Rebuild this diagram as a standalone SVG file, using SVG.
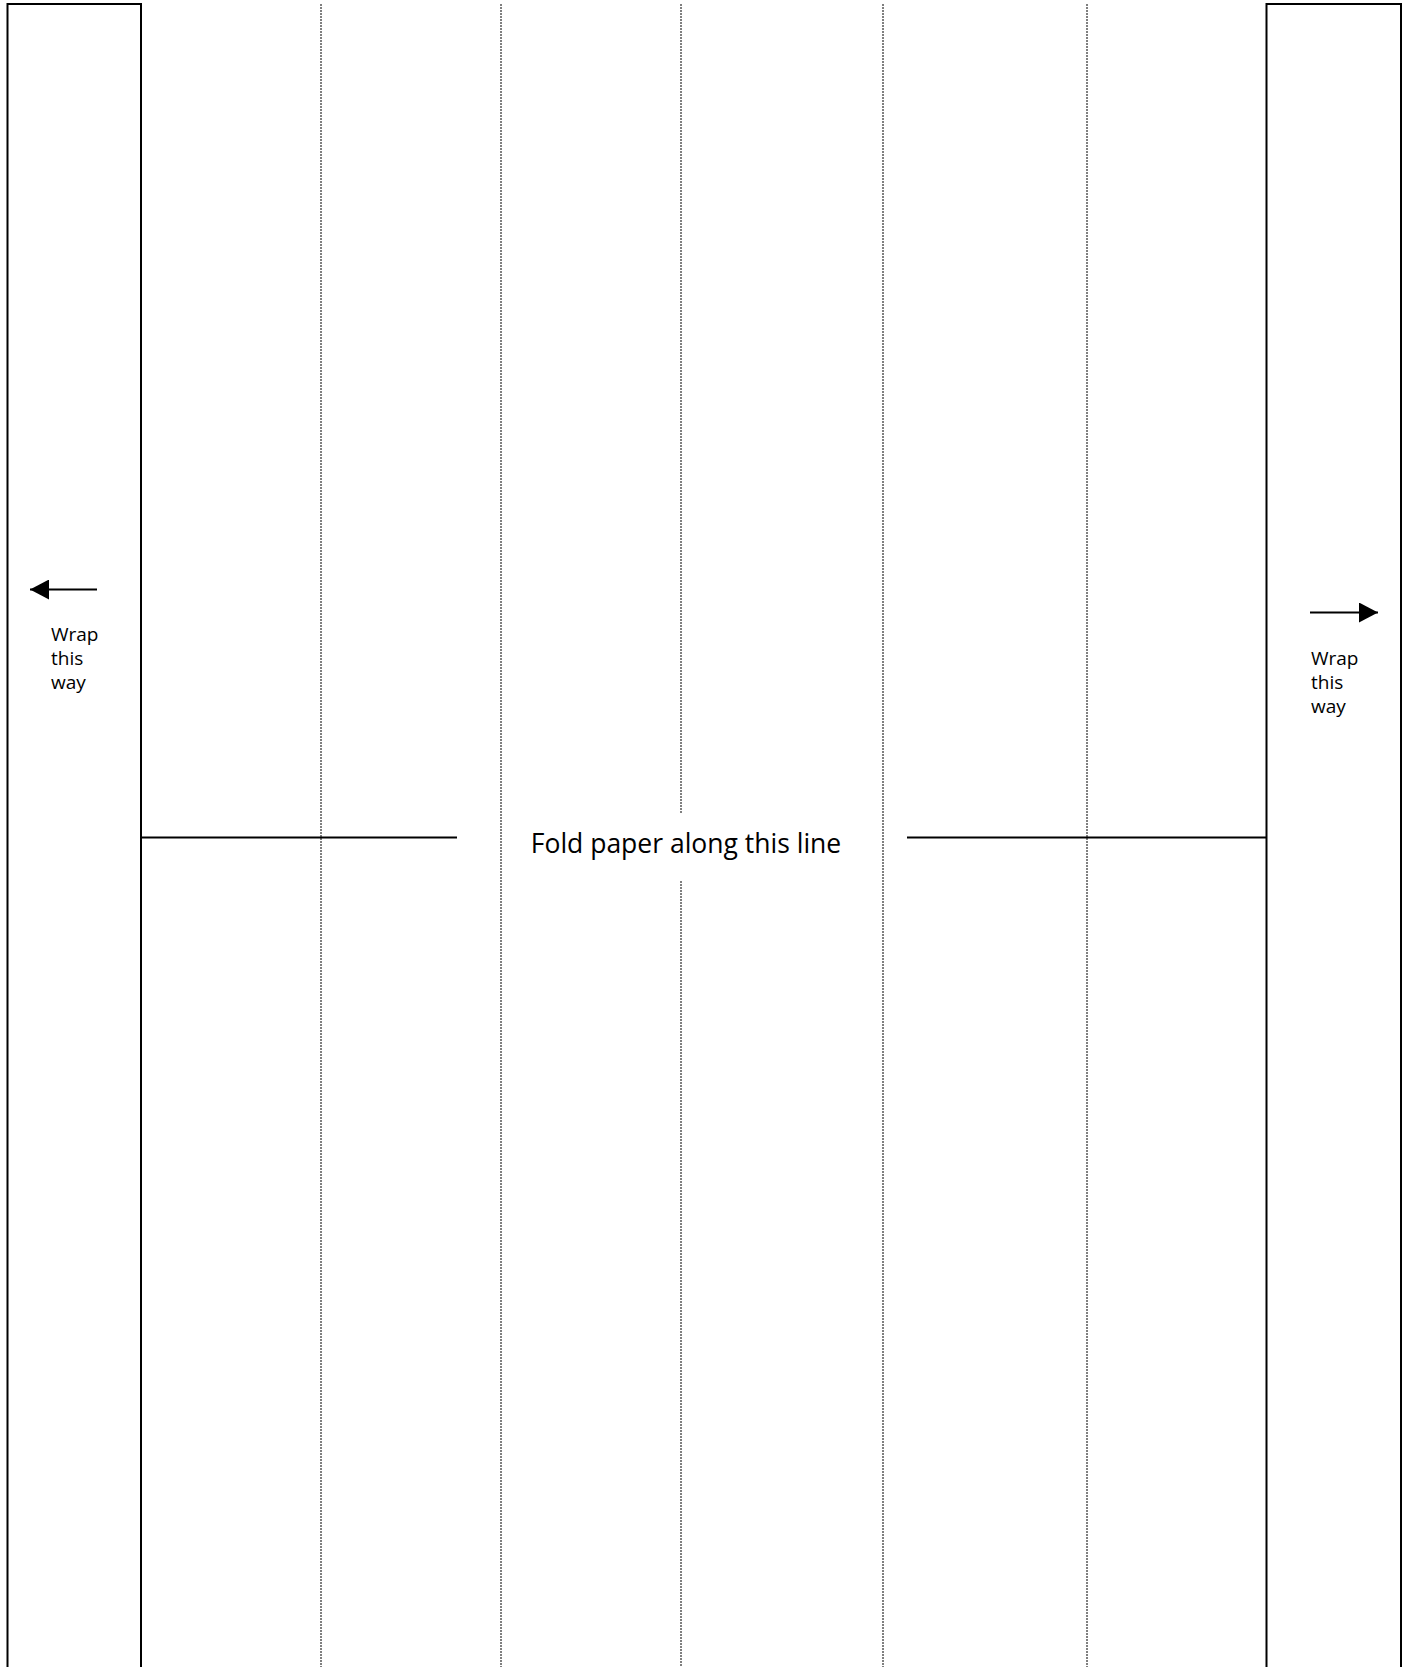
<svg xmlns="http://www.w3.org/2000/svg" width="1409" height="1667" viewBox="0 0 1409 1667">
<style>
.frame{fill:none;stroke:#000;stroke-width:2}
.dot{stroke:#000;stroke-width:1;stroke-dasharray:2 1}
.fold{stroke:#000;stroke-width:2}
.small{font-family:"Open Sans","DejaVu Sans",sans-serif;font-size:19px;fill:#000}
.big{font-family:"Open Sans","DejaVu Sans",sans-serif;font-size:26.5px;fill:#000}
</style>
<defs>
<marker id="ah" markerWidth="19" markerHeight="20" refX="19" refY="10" orient="auto" markerUnits="userSpaceOnUse">
<path d="M0,0 L19,10 L0,20 Z" fill="#000"/>
</marker>
</defs>
<rect width="1409" height="1667" fill="#fff"/>
<g id="dotted-lines">
<line class="dot" x1="321" y1="4" x2="321" y2="1667"/>
<line class="dot" x1="501" y1="4" x2="501" y2="1667"/>
<line class="dot" x1="681" y1="4" x2="681" y2="813"/>
<line class="dot" x1="681" y1="881" x2="681" y2="1667"/>
<line class="dot" x1="883" y1="4" x2="883" y2="1667"/>
<line class="dot" x1="1087" y1="4" x2="1087" y2="1667"/>
</g>
<g id="left-flap">
<path class="frame" d="M7.5,1667 V4 H141 V1667"/>
<text class="small" x="51" y="641">Wrap</text>
<text class="small" x="51" y="665">this</text>
<text class="small" x="51" y="689">way</text>
</g>
<g id="right-flap">
<path class="frame" d="M1266.5,1667 V4 H1401 V1667"/>
<text class="small" x="1311" y="665">Wrap</text>
<text class="small" x="1311" y="689">this</text>
<text class="small" x="1311" y="713">way</text>
</g>
<g id="fold-label">
<text class="big" x="686" y="853" text-anchor="middle">Fold paper along this line</text>
</g>
<g id="connectors">
<line class="fold" x1="141" y1="837.5" x2="457" y2="837.5"/>
<line class="fold" x1="907" y1="837.5" x2="1266.5" y2="837.5"/>
<line class="fold" x1="97" y1="589.5" x2="30" y2="589.5" marker-end="url(#ah)"/>
<line class="fold" x1="1310" y1="612.5" x2="1378" y2="612.5" marker-end="url(#ah)"/>
</g>
</svg>
